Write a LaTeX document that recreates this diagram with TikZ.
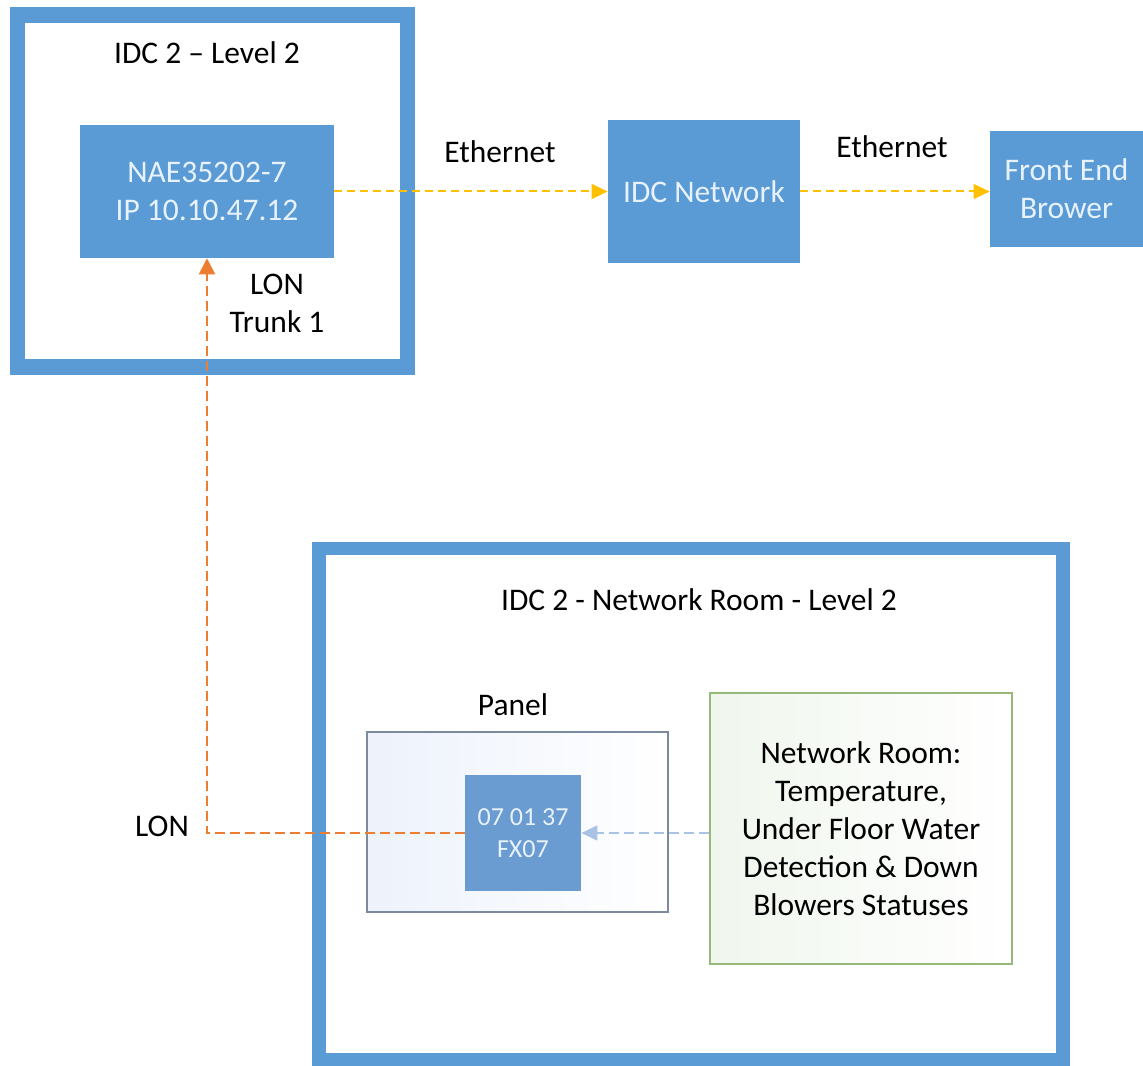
\documentclass[tikz,border=0pt]{standalone}
\usepackage{fontspec}
\setmainfont{Carlito}
\usetikzlibrary{arrows.meta}

\begin{document}
\begin{tikzpicture}[x=0.75pt,y=0.75pt,yscale=-1,xscale=1,
  font=\fontsize{23.6}{28.5}\selectfont,
  roomframe/.style={draw={rgb, 255:red, 91; green, 155; blue, 213 }, line width=11.5pt},
  bluebox/.style={fill={rgb, 255:red, 91; green, 155; blue, 213 }, text={rgb, 255:red, 232; green, 242; blue, 252 }, align=center, inner sep=0pt},
  ethlink/.style={draw={rgb, 255:red, 255; green, 192; blue, 0 }, line width=1.5pt, dash pattern={on 6pt off 3.75pt}, -{Triangle[length=12pt,width=11pt]}},
  lonlink/.style={draw={rgb, 255:red, 237; green, 125; blue, 49 }, line width=1.5pt, dash pattern={on 7.5pt off 3.75pt}, -{Triangle[length=12pt,width=12pt]}},
  sensorlink/.style={draw={rgb, 255:red, 170; green, 194; blue, 228 }, line width=1.5pt, dash pattern={on 7.5pt off 3.75pt}, -{Triangle[length=12pt,width=11pt]}}
]
\useasboundingbox (0,0) rectangle (1143,1066);

%Shape: Rectangle
\draw [roomframe] (17.5,15) rectangle (407.5,367);
%Shape: Rectangle
\draw [roomframe, line width=10pt] (319,548.5) rectangle (1063,1059.5);

%Shape: Rectangle
\node [bluebox, minimum width=190.5pt, minimum height=99.75pt] (nae) at (207,191.5) {NAE35202-7\\IP 10.10.47.12};
%Shape: Rectangle
\node [bluebox, minimum width=144pt, minimum height=107.25pt] (idcnet) at (704,191.5) {IDC Network};
%Shape: Rectangle
\node [bluebox, minimum width=114.75pt, minimum height=87pt] (front) at (1066.5,189) {Front End\\Brower};
%Shape: Rectangle
\node [draw={rgb, 255:red, 124; green, 138; blue, 160 }, line width=1pt, left color={rgb, 255:red, 237; green, 242; blue, 251 }, right color=white, minimum width=225.75pt, minimum height=135pt, inner sep=0pt] (panel) at (517.5,822) {};
%Shape: Rectangle
\node [draw={rgb, 255:red, 150; green, 184; blue, 120 }, line width=1pt, left color={rgb, 255:red, 240; green, 246; blue, 237 }, right color=white, minimum width=226.5pt, minimum height=203.25pt, inner sep=0pt, align=center] (sensors) at (861,828.5) {Network Room:\\Temperature,\\Under Floor Water\\Detection \& Down\\Blowers Statuses};
%Shape: Rectangle
\node [bluebox, fill={rgb, 255:red, 106; green, 155; blue, 209 }, minimum width=87pt, minimum height=87pt, font=\fontsize{19.5}{24}\selectfont] (fx) at (523,833) {07 01 37\\FX07};

%Straight Lines
\draw [ethlink] (nae.east) -- (idcnet.west);
%Straight Lines
\draw [ethlink] (idcnet.east) -- (idcnet.east -| front.west);
%Straight Lines
\coordinate (lonbend) at (207,833);
\draw [lonlink] (fx.west) -- (lonbend) -- (nae.south);
%Straight Lines
\draw [sensorlink] (fx.east -| sensors.west) -- (fx.east);

% Text Node
\draw (207,53) node [inner sep=0.75pt] (ttllevel) {IDC 2 -- Level 2};
% Text Node
\draw (500,152) node [inner sep=0.75pt] (ethfirst) {Ethernet};
% Text Node
\draw (892,147) node [inner sep=0.75pt] (ethsecond) {Ethernet};
% Text Node
\draw (277,303.5) node [inner sep=0.75pt, align=center] (lontrunk) {LON\\Trunk 1};
% Text Node
\draw (162,826) node [inner sep=0.75pt] (lonlbl) {LON};
% Text Node
\draw (699,600) node [inner sep=0.75pt] (ttlroom) {IDC 2 - Network Room - Level 2};
% Text Node
\draw (513,705) node [inner sep=0.75pt] (panellbl) {Panel};

\end{tikzpicture}
\end{document}
